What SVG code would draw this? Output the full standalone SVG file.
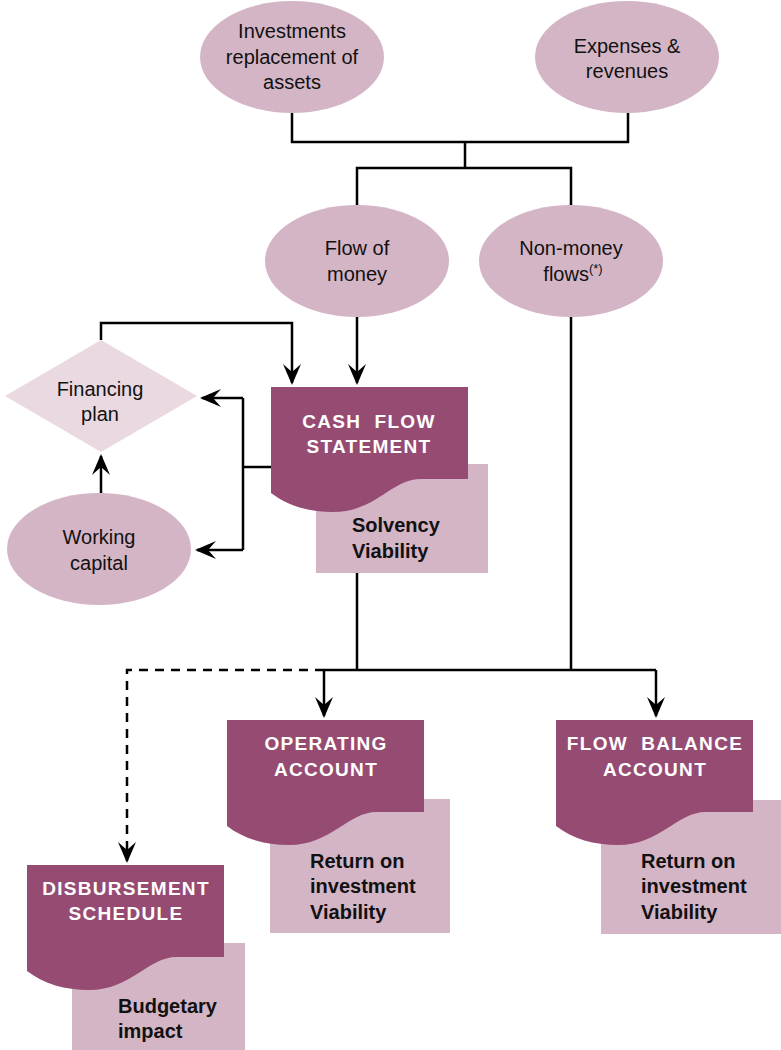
<svg xmlns="http://www.w3.org/2000/svg" width="781" height="1050" viewBox="0 0 781 1050">
<style>
.ell{fill:#d4b5c6}
.dia{fill:#ead9e1}
.doc{fill:#964c72}
.box{fill:#d4b5c6}
.t{font-family:"Liberation Sans",Arial,sans-serif;font-size:20px;fill:#111;text-anchor:middle}
.b{font-family:"Liberation Sans",Arial,sans-serif;font-size:20px;font-weight:bold;fill:#111}
.h{font-family:"Liberation Sans",Arial,sans-serif;font-size:19px;font-weight:bold;fill:#fff;text-anchor:middle;letter-spacing:1.3px;white-space:pre}
.ln{fill:none;stroke:#000;stroke-width:2.5}
.ar{marker-end:url(#arr)}
.dash{stroke-dasharray:9 7}
</style>
<defs>
<marker id="arr" markerUnits="userSpaceOnUse" viewBox="-22 -10 26 20" refX="0" refY="0" markerWidth="26" markerHeight="20" orient="auto">
<path d="M2,0 L-19,-9 L-11,0 L-19,9 Z" fill="#000"/>
</marker>
<path id="docshape" d="M0,0 H197 V92 H150 C120,92 105,125 62,125 C38,125 17,119 0,106 Z"/>
</defs>

<g id="connectors">
<path class="ln" d="M292,113 V142 H628 V113"/>
<path class="ln" d="M465,142 V168"/>
<path class="ln" d="M357,205 V168 H571 V205"/>
<path class="ln ar" d="M357,317 V383"/>
<path class="ln ar" d="M101,340 V323 H292 V383"/>
<path class="ln" d="M272,467 H243"/>
<path class="ln" d="M243,398 V550"/>
<path class="ln ar" d="M243,398 H202"/>
<path class="ln ar" d="M243,550 H197"/>
<path class="ln ar" d="M101,493 V456"/>
<path class="ln" d="M357,573 V670"/>
<path class="ln" d="M571,317 V670"/>
<path class="ln" d="M324,670 H656"/>
<path class="ln ar" d="M324,670 V716"/>
<path class="ln ar" d="M656,670 V716"/>
<path class="ln ar dash" d="M324,670 H127 V861"/>
</g>

<g id="investments">
<ellipse class="ell" cx="292" cy="57" rx="92" ry="56"/>
<text class="t" x="292" y="38">Investments</text>
<text class="t" x="292" y="64">replacement of</text>
<text class="t" x="292" y="89">assets</text>
</g>

<g id="expenses">
<ellipse class="ell" cx="627" cy="57" rx="92" ry="56"/>
<text class="t" x="627" y="53">Expenses &amp;</text>
<text class="t" x="627" y="78">revenues</text>
</g>

<g id="flow-of-money">
<ellipse class="ell" cx="357" cy="261" rx="92" ry="56"/>
<text class="t" x="357" y="255">Flow of</text>
<text class="t" x="357" y="281">money</text>
</g>

<g id="non-money">
<ellipse class="ell" cx="571" cy="261" rx="92" ry="56"/>
<text class="t" x="571" y="255">Non-money</text>
<text class="t" x="573" y="281">flows<tspan font-size="13" dy="-8">(*)</tspan></text>
</g>

<g id="financing-plan">
<polygon class="dia" points="101,340 197,396 101,452 5,396"/>
<text class="t" x="100" y="396">Financing</text>
<text class="t" x="100" y="421">plan</text>
</g>

<g id="working-capital">
<ellipse class="ell" cx="99" cy="549" rx="92" ry="56"/>
<text class="t" x="99" y="544">Working</text>
<text class="t" x="99" y="570">capital</text>
</g>

<g id="cash-flow-statement">
<rect class="box" x="316" y="464" width="172" height="109"/>
<use href="#docshape" class="doc" x="271" y="387"/>
<text class="h" x="369" y="428">CASH  FLOW</text>
<text class="h" x="369" y="453">STATEMENT</text>
<text class="b" x="352" y="532">Solvency</text>
<text class="b" x="352" y="558">Viability</text>
</g>

<g id="operating-account">
<rect class="box" x="270" y="799" width="180" height="134"/>
<use href="#docshape" class="doc" x="227" y="720"/>
<text class="h" x="326" y="750">OPERATING</text>
<text class="h" x="326" y="776">ACCOUNT</text>
<text class="b" x="310" y="868">Return on</text>
<text class="b" x="310" y="893">investment</text>
<text class="b" x="310" y="919">Viability</text>
</g>

<g id="flow-balance-account">
<rect class="box" x="601" y="800" width="180" height="134"/>
<use href="#docshape" class="doc" x="556" y="720"/>
<text class="h" x="655" y="750">FLOW  BALANCE</text>
<text class="h" x="655" y="776">ACCOUNT</text>
<text class="b" x="641" y="868">Return on</text>
<text class="b" x="641" y="893">investment</text>
<text class="b" x="641" y="919">Viability</text>
</g>

<g id="disbursement-schedule">
<rect class="box" x="72" y="943" width="173" height="107"/>
<use href="#docshape" class="doc" x="27" y="865"/>
<text class="h" x="126" y="895">DISBURSEMENT</text>
<text class="h" x="126" y="920">SCHEDULE</text>
<text class="b" x="118" y="1013">Budgetary</text>
<text class="b" x="118" y="1038">impact</text>
</g>
</svg>
